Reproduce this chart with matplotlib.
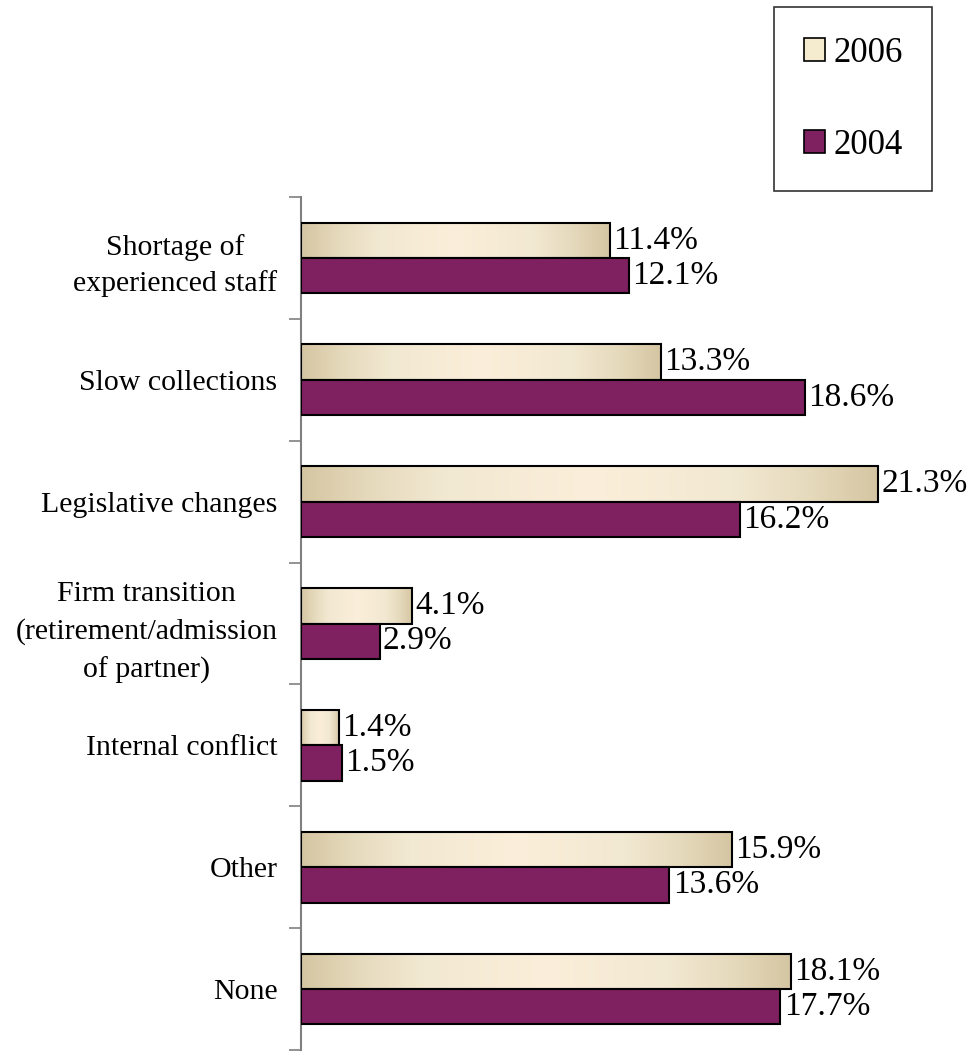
import numpy as np
import matplotlib.pyplot as plt
from matplotlib.colors import LinearSegmentedColormap
from matplotlib.patches import Patch

categorias = ['Shortage of\nexperienced staff', 'Slow collections', 'Legislative changes',
              'Firm transition\n(retirement/admission\nof partner)', 'Internal conflict',
              'Other', 'None']
valores_2006 = [11.4, 13.3, 21.3, 4.1, 1.4, 15.9, 18.1]
valores_2004 = [12.1, 18.6, 16.2, 2.9, 1.5, 13.6, 17.7]

plt.rcParams['font.family'] = ['Liberation Serif', 'DejaVu Serif']

color_2004 = '#7F2060'
crema = '#F5EBCF'
degradado = LinearSegmentedColormap.from_list(
    'crema', [(0, '#D5C6A2'), (0.12, '#E6DABD'), (0.25, '#F2E9D2'), (0.5, '#FBEEDA'),
              (0.75, '#F2E9D2'), (0.88, '#E6DABD'), (1, '#D5C6A2')])

fig = plt.figure(figsize=(9.74, 10.52), dpi=100)
ax = fig.add_axes([301 / 974, 2 / 1052, (965 - 301) / 974, (1050 - 197) / 1052])

y = np.arange(len(categorias))
alto = 0.29
barras_06 = ax.barh(y - alto / 2, valores_2006, height=alto, facecolor='none',
                    edgecolor='black', linewidth=1.5, zorder=3)
barras_04 = ax.barh(y + alto / 2, valores_2004, height=alto, color=color_2004,
                    edgecolor='black', linewidth=1.5, zorder=3)

# degradado horizontal dentro de cada barra de 2006
grad = np.linspace(0, 1, 256).reshape(1, -1)
for b in barras_06:
    x0, y0 = b.get_x(), b.get_y()
    w, h = b.get_width(), b.get_height()
    im = ax.imshow(grad, cmap=degradado, aspect='auto', extent=(x0, x0 + w, y0 + h, y0),
                   zorder=2, interpolation='bicubic')
    im.set_clip_path(b)

for b, v in zip(barras_06, valores_2006):
    ax.text(v + 0.12, b.get_y() + b.get_height() / 2, f'{v:.1f}%', va='center',
            ha='left', fontsize=24)
for b, v in zip(barras_04, valores_2004):
    ax.text(v + 0.12, b.get_y() + b.get_height() / 2, f'{v:.1f}%', va='center',
            ha='left', fontsize=24)

ax.set_xlim(0, (965 - 301) / 27.09)
ax.set_ylim(len(categorias) - 0.5, -0.5)

ax.set_yticks(np.arange(-0.5, len(categorias), 1))
ax.set_yticklabels([])
ax.tick_params(axis='y', which='major', length=9, width=1.2, color='#808080')
ax.set_yticks(y, minor=True)
ax.set_yticklabels(categorias, minor=True, fontsize=21.5, multialignment='center')
ax.tick_params(axis='y', which='minor', length=0, pad=17)
# interlineado mas amplio en las etiquetas de varias lineas
for t in ax.get_yticklabels(minor=True):
    n = t.get_text().count('\n')
    if n == 1:
        t.set_linespacing(1.45)
    elif n == 2:
        t.set_linespacing(1.55)

ax.xaxis.set_visible(False)
for s in ['top', 'right', 'bottom']:
    ax.spines[s].set_visible(False)
ax.spines['left'].set_color('#808080')
ax.spines['left'].set_linewidth(1.5)

manejadores = [Patch(facecolor=crema, edgecolor='black', linewidth=1.2, label='2006'),
               Patch(facecolor=color_2004, edgecolor='black', linewidth=1.2, label='2004')]
leg = fig.legend(handles=manejadores, loc='upper left', bbox_to_anchor=(774 / 974, 1 - 7 / 1052),
                 fontsize=25, frameon=True, fancybox=False, edgecolor='black',
                 handlelength=0.63, handleheight=0.63, handletextpad=0.23,
                 labelspacing=1.7, borderpad=0.85, borderaxespad=0)
leg.get_frame().set_linewidth(1.2)

fig.savefig('out.png', dpi=100, facecolor='white')
